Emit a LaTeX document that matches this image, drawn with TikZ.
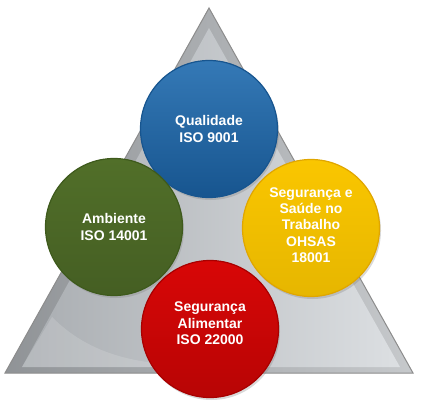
\documentclass[tikz,border=0pt]{standalone}
\usepackage{fontspec}
\setmainfont{Liberation Sans}
\usepackage{tikz}
\usetikzlibrary{shadows}
\definecolor{azul}{HTML}{1E6AAE}
\definecolor{azulesc}{HTML}{17558F}
\definecolor{verde}{HTML}{516F29}
\definecolor{verdeesc}{HTML}{3E5A1C}
\definecolor{amarelo}{HTML}{FAC600}
\definecolor{amareloesc}{HTML}{E0A600}
\definecolor{vermelho}{HTML}{D80606}
\definecolor{vermelhoesc}{HTML}{A80000}
\definecolor{cinza}{HTML}{A9ADB1}
\definecolor{cinzaclaro}{HTML}{DCDFE2}
\tikzstyle{norma} = [circle,minimum size=137pt,inner sep=0pt,align=center,text=white,
  font=\fontsize{14}{16.3}\selectfont\bfseries,line width=1.2pt,
  drop shadow={opacity=0.3,shadow xshift=1.5pt,shadow yshift=-2.5pt}]

\begin{document}
\begin{tikzpicture}[x=1pt,y=-1pt]
	\useasboundingbox (0,0) rectangle (430,406);
	% triangulo
	\path[left color=cinza!85!black,right color=cinzaclaro!90!black] (209,8) -- (413,373) -- (5,373) -- cycle;
	\draw[black!45,line width=1pt] (209,8) -- (413,373) -- (5,373) -- cycle;
	\path[left color=cinza,right color=cinzaclaro] (209,28) -- (400,367) -- (22,367) -- cycle;
	\fill[white,opacity=0.15] (52,317) .. controls (80,345) and (115,360) .. (165,364) -- (165,367) -- (22,367) -- cycle;
	% normas
	\node[norma,draw=azulesc,top color=azul!90!white,bottom color=azulesc] (qualidade) at (209,129) {Qualidade\\ISO 9001};
	\node[norma,draw=verdeesc,top color=verde,bottom color=verde!85!black] (ambiente) at (114,227) {Ambiente\\ISO 14001};
	\node[norma,draw=amareloesc,top color=amarelo,bottom color=amarelo!92!black] (trabalho) at (311,228) {Segurança e\\Saúde no\\Trabalho\\OHSAS\\18001\\[-10pt]};
	\node[norma,draw=vermelhoesc,top color=vermelho,bottom color=vermelho!85!black] (alimentar) at (210,329) {Segurança\\Alimentar\\ISO 22000\\[-5pt]};
\end{tikzpicture}
\end{document}
